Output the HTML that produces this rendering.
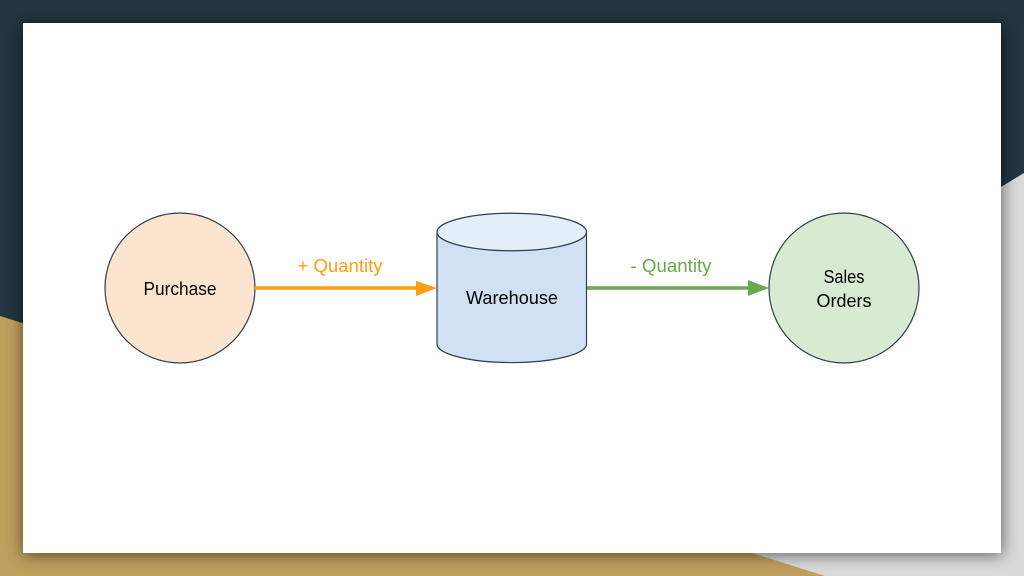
<!DOCTYPE html>
<html><head><meta charset="utf-8"><style>
html,body{margin:0;padding:0;width:1024px;height:576px;overflow:hidden;background:#22363f}
svg{position:absolute;left:0;top:0}
text{font-family:"Liberation Sans",sans-serif;font-size:18px;text-anchor:middle}
</style></head><body>
<svg width="1024" height="576" viewBox="0 0 1024 576" xmlns="http://www.w3.org/2000/svg">
<defs><filter id="s" x="-10%" y="-10%" width="120%" height="120%"><feGaussianBlur stdDeviation="8"/></filter></defs>
<rect width="1024" height="576" fill="#22363f"/>
<polygon points="1024,173 700,368 700,576 1024,576" fill="#d9d9d9"/>
<polygon points="0,316 825,576 0,576" fill="#bf9f5e"/>
<rect x="23" y="25" width="979" height="530" fill="#000" opacity=".55" filter="url(#s)"/>
<rect x="23" y="23" width="978" height="530" fill="#fff"/>

<circle cx="180" cy="288" r="75" fill="#fbe5cf" stroke="#2f3f4c" stroke-width="1.2"/>
<text x="180" y="295" fill="#000" textLength="73" lengthAdjust="spacingAndGlyphs">Purchase</text>

<path d="M255 288H420" stroke="#ff9f0f" stroke-width="3.500" fill="none"/>
<polygon points="416,281 437,288 416,296" fill="#ff9f0f"/>
<text x="340" y="272" fill="#ff9f0f" textLength="85" lengthAdjust="spacingAndGlyphs">+ Quantity</text>

<path d="M437 232V344A74.500 18.500 0 0 0 586.500 344V232Z" fill="#cfe1f3" stroke="#2f3f4c" stroke-width="1.200"/>
<ellipse cx="511.750" cy="232" rx="74.750" ry="18.750" fill="#e2eef8" stroke="#2f3f4c" stroke-width="1.200"/>
<text x="512" y="304" fill="#000" textLength="92" lengthAdjust="spacingAndGlyphs">Warehouse</text>

<path d="M587 288H752" stroke="#6aa84f" stroke-width="3.500" fill="none"/>
<polygon points="748,280 769,288 748,296" fill="#6aa84f"/>
<text x="671" y="272" fill="#6aa84f" textLength="81" lengthAdjust="spacingAndGlyphs">- Quantity</text>

<circle cx="844" cy="288" r="75" fill="#d9ead3" stroke="#2f3f4c" stroke-width="1.2"/>
<text x="844" y="283" fill="#000" textLength="41" lengthAdjust="spacingAndGlyphs">Sales</text>
<text x="844" y="307" fill="#000" textLength="55" lengthAdjust="spacingAndGlyphs">Orders</text>
</svg>
</body></html>
